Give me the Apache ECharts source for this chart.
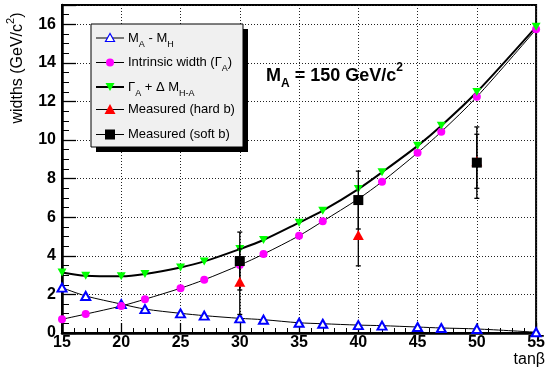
<!DOCTYPE html>
<html><head><meta charset="utf-8">
<script src="https://cdn.jsdelivr.net/npm/echarts@6/dist/echarts.min.js"></script>
<style>html,body{margin:0;padding:0;background:#fff}#c{width:548px;height:376px}</style>
</head><body><div id="c"></div>
<script>
// ---- data ----
const tanBeta   = [15,17,20,22,25,27,30,32,35,37,40,42,45,47,50,55];
const massDiff  = [2.35,1.92,1.50,1.24,1.02,0.90,0.76,0.69,0.53,0.48,0.41,0.38,0.31,0.26,0.21,0.04];
const intrinsic = [0.71,0.98,1.40,1.75,2.32,2.76,3.52,4.09,5.04,5.79,6.95,7.84,9.34,10.43,12.24,15.74];
const totalW    = [3.14,2.97,2.94,3.06,3.40,3.71,4.35,4.82,5.72,6.34,7.46,8.33,9.70,10.74,12.49,15.87];
const measTanBeta = [30,40,50];
const hardB    = [2.66,5.08,8.90];
const hardBErr = [1.70,1.60,1.40];
const softB    = [3.73,6.89,8.83];
const softBErr = [1.50,1.50,1.85];
const xTicks = [15,20,25,30,35,40,45,50,55];
const yTicks = [0,2,4,6,8,10,12,14,16];

const FONT = '"Liberation Sans", Arial, Helvetica, sans-serif';
const pairs = (xs, ys) => xs.map((x,i)=>[x, ys[i]]);
const errData = (xs, ys, es) => xs.map((x,i)=>[x, ys[i]-es[i], ys[i]+es[i]]);

function errRender(params, api){
  const x = api.value(0), lo = api.value(1), hi = api.value(2);
  const a = api.coord([x, lo]), b = api.coord([x, hi]);
  const hw = 2.5, st = {stroke:'#000', lineWidth:1.3};
  return {type:'group', children:[
    {type:'line', shape:{x1:a[0],y1:a[1],x2:b[0],y2:b[1]}, style:st},
    {type:'line', shape:{x1:a[0]-hw,y1:a[1],x2:a[0]+hw,y2:a[1]}, style:st},
    {type:'line', shape:{x1:b[0]-hw,y1:b[1],x2:b[0]+hw,y2:b[1]}, style:st}
  ]};
}

// legend graphic
const LX0 = 96, LX1 = 124, LM = 110, LT = 128;
const rowsY = [38, 62.5, 87, 109.5, 134.5];
const subRich = {
  s: {fontSize: 9, fontFamily: FONT, verticalAlign:'bottom', lineHeight: 22},
  n: {fontSize: 13, fontFamily: FONT, lineHeight: 16}
};
function txt(x, y, t){
  return {type:'text', x:x, y:y, z:102, style:{text:t, fontSize:13, fontFamily:FONT, fill:'#000',
    align:'left', verticalAlign:'middle', rich: subRich}};
}
function lline(y, w){
  return {type:'line', z:101, shape:{x1:LX0,y1:y,x2:LX1,y2:y}, style:{stroke:'#000', lineWidth:w}};
}
const legendEls = [
  {type:'rect', z:100, shape:{x:96,y:29,width:152,height:123}, style:{fill:'#000'}},
  {type:'rect', z:100, shape:{x:91,y:24,width:152,height:123}, style:{fill:'#f0f0f0', stroke:'#000', lineWidth:1}},
  lline(rowsY[0],1),
  {type:'polygon', z:102, shape:{points:[[LM,rowsY[0]-4.5],[LM-4.5,rowsY[0]+3.5],[LM+4.5,rowsY[0]+3.5]]}, style:{fill:'#fff', stroke:'#0000ff', lineWidth:1.2}},
  txt(LT, rowsY[0], '{n|M}{s|A}{n| - M}{s|H}'),
  lline(rowsY[1],1),
  {type:'circle', z:102, shape:{cx:LM, cy:rowsY[1], r:4}, style:{fill:'#ff00ff'}},
  txt(LT, rowsY[1], '{n|Intrinsic width (Γ}{s|A}{n|)}'),
  lline(rowsY[2],2),
  {type:'polygon', z:102, shape:{points:[[LM,rowsY[2]+4],[LM-4.5,rowsY[2]-4],[LM+4.5,rowsY[2]-4]]}, style:{fill:'#00ff00'}},
  txt(LT, rowsY[2], '{n|Γ}{s|A}{n| + Δ M}{s|H-A}'),
  lline(rowsY[3],1),
  {type:'polygon', z:102, shape:{points:[[LM,rowsY[3]-5.5],[LM-5.5,rowsY[3]+4.5],[LM+5.5,rowsY[3]+4.5]]}, style:{fill:'#ff0000'}},
  txt(LT, rowsY[3], '{n|Measured (hard b)}'),
  lline(rowsY[4],1),
  {type:'rect', z:102, shape:{x:LM-5,y:rowsY[4]-5,width:10,height:10}, style:{fill:'#000'}},
  txt(LT, rowsY[4], '{n|Measured (soft b)}')
];

const chart = echarts.init(document.getElementById('c'), null, {renderer:'canvas'});
chart.setOption({
  animation:false,
  backgroundColor:'#fff',
  grid:{left:62, right:5, top:5, bottom:43, show:true, borderColor:'#000', borderWidth:2, backgroundColor:'transparent'},
  xAxis:{type:'value', min:15, max:55, interval:5,
    axisLine:{show:true, lineStyle:{color:'#000', width:2.5}},
    axisTick:{inside:true, length:10, lineStyle:{color:'#000', width:1.3}},
    minorTick:{show:true, splitNumber:5, length:5, lineStyle:{color:'#000', width:1}},
    splitLine:{show:true, lineStyle:{color:'#222', width:1, type:[1,2]}},
    axisLabel:{color:'#000', fontFamily:FONT, fontWeight:'bold', fontSize:16, margin:2,
      formatter: v => xTicks.includes(v) ? String(v) : ''}
  },
  yAxis:{type:'value', min:0, max:17, interval:2,
    axisLine:{show:true, lineStyle:{color:'#000', width:2.5}},
    axisTick:{inside:true, length:14, lineStyle:{color:'#000', width:1.3}},
    minorTick:{show:true, splitNumber:4, length:7, lineStyle:{color:'#000', width:1}},
    splitLine:{show:true, lineStyle:{color:'#222', width:1, type:[1,2]}},
    axisLabel:{color:'#000', fontFamily:FONT, fontWeight:'bold', fontSize:16, margin:6,
      formatter: v => yTicks.includes(v) ? String(v) : ''}
  },
  graphic: legendEls.concat([
    {type:'text', x:18, y:68, rotation:Math.PI/2, z:100,
      style:{text:'{n|widths (GeV/c}{p|2}{n|)}', align:'center', verticalAlign:'middle', fill:'#000',
        rich:{n:{fontSize:16, fontFamily:FONT, lineHeight:18}, p:{fontSize:11, fontFamily:FONT, verticalAlign:'top', lineHeight:26}}}},
    {type:'text', x:545, y:360, z:100,
      style:{text:'tanβ', align:'right', verticalAlign:'middle', fill:'#000', fontSize:16, fontFamily:FONT}},
    {type:'text', x:266, y:76, z:100,
      style:{text:'{n|M}{s|A}{n| = 150 GeV/c}{p|2}', align:'left', verticalAlign:'middle', fill:'#000',
        rich:{n:{fontSize:18, fontWeight:'bold', fontFamily:FONT, lineHeight:20},
              s:{fontSize:12, fontWeight:'bold', fontFamily:FONT, verticalAlign:'bottom', lineHeight:28},
              p:{fontSize:12, fontWeight:'bold', fontFamily:FONT, verticalAlign:'top', lineHeight:28}}}}
  ]),
  series:[
    {type:'line', name:'M_A - M_H', data:pairs(tanBeta, massDiff), smooth:0.3,
      lineStyle:{color:'#000', width:1}, symbol:'emptyTriangle', symbolSize:[9,8],
      itemStyle:{color:'#0000ff', borderWidth:1.2}, z:3},
    {type:'line', name:'Intrinsic width', data:pairs(tanBeta, intrinsic), smooth:0.3,
      lineStyle:{color:'#000', width:1}, symbol:'circle', symbolSize:8,
      itemStyle:{color:'#ff00ff'}, z:3},
    {type:'line', name:'Gamma_A + dM', data:pairs(tanBeta, totalW), smooth:0.3,
      lineStyle:{color:'#000', width:2}, symbol:'triangle', symbolRotate:180, symbolSize:[9,8],
      itemStyle:{color:'#00ff00'}, z:3},
    {type:'custom', name:'hard err', data:errData(measTanBeta, hardB, hardBErr), renderItem:errRender, z:4},
    {type:'custom', name:'soft err', data:errData(measTanBeta, softB, softBErr), renderItem:errRender, z:4},
    {type:'scatter', name:'Measured (hard b)', data:pairs(measTanBeta, hardB), symbol:'triangle',
      symbolSize:[11,10], itemStyle:{color:'#ff0000', opacity:1}, z:5},
    {type:'scatter', name:'Measured (soft b)', data:pairs(measTanBeta, softB), symbol:'rect',
      symbolSize:10, itemStyle:{color:'#000', opacity:1}, z:6}
  ]
});
</script></body></html>
